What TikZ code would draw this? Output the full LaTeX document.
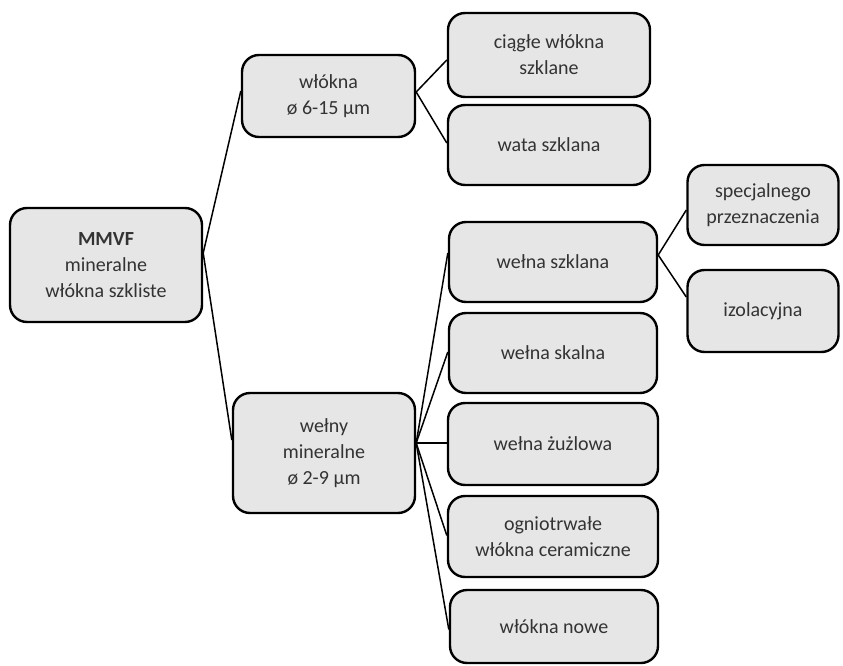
\documentclass[tikz,border=0pt]{standalone}
\usepackage{fontspec}
\setmainfont{Carlito}
\definecolor{boxgray}{HTML}{E6E6E6}
\definecolor{txtgray}{HTML}{333333}
\tikzset{
  box/.style={draw=black, line width=2.4pt, fill=boxgray, rounded corners=17pt,
    align=center, inner sep=0pt, text=txtgray, font=\fontsize{20}{26}\selectfont},
  conn/.style={draw=black, line width=1.5pt}
}
\begin{document}
\begin{tikzpicture}[x=1pt,y=-1pt]
\useasboundingbox (0,0) rectangle (843,666);
\node[box, minimum width=192pt, minimum height=114pt] (mmvf) at (106,265) {\textbf{MMVF}\\mineralne\\włókna szkliste};
\node[box, minimum width=173pt, minimum height=82pt] (wlokna) at (328.5,96) {włókna\\ø 6-15 µm};
\node[box, minimum width=182pt, minimum height=120pt] (welny) at (324,453) {wełny\\mineralne\\ø 2-9 µm};
\node[box, minimum width=202pt, minimum height=84pt] (ciagle) at (549,55) {ciągłe włókna\\szklane};
\node[box, minimum width=202pt, minimum height=80pt] (wata) at (549,145) {wata szklana};
\node[box, minimum width=208pt, minimum height=80pt] (wszkl) at (553,262) {wełna szklana};
\node[box, minimum width=208pt, minimum height=80pt] (wskal) at (553,353) {wełna skalna};
\node[box, minimum width=210pt, minimum height=82pt] (wzuz) at (553,444) {wełna żużlowa};
\node[box, minimum width=210pt, minimum height=81pt] (ognio) at (553,536.5) {ogniotrwałe\\włókna ceramiczne};
\node[box, minimum width=208pt, minimum height=73pt] (nowe) at (554,626.5) {włókna nowe};
\node[box, minimum width=151pt, minimum height=80pt] (spec) at (763,205) {specjalnego\\przeznaczenia};
\node[box, minimum width=151pt, minimum height=82pt] (izol) at (763,311) {izolacyjna};

\coordinate (v1) at ([yshift=12pt]mmvf.east);
\coordinate (v2) at ([yshift=4pt]wlokna.east);
\coordinate (v3) at ([yshift=10pt]welny.east);
\coordinate (v4) at ([yshift=7pt]wszkl.east);

\draw[conn] ([yshift=5pt]wlokna.west) -- (v1) -- ([yshift=13pt]welny.west);
\draw[conn] ([yshift=-5pt]ciagle.west) -- (v2) -- ([yshift=2pt]wata.west);
\draw[conn] ([yshift=9pt]wszkl.west) -- (v3);
\draw[conn] ([yshift=1pt]wskal.west) -- (v3);
\draw[conn] ([yshift=1pt]wzuz.west) -- (v3);
\draw[conn] ([yshift=1pt]ognio.west) -- (v3);
\draw[conn] ([yshift=-3pt]nowe.west) -- (v3);
\draw[conn] ([yshift=-5pt]spec.west) -- (v4) -- ([yshift=14pt]izol.west);
\end{tikzpicture}
\end{document}
